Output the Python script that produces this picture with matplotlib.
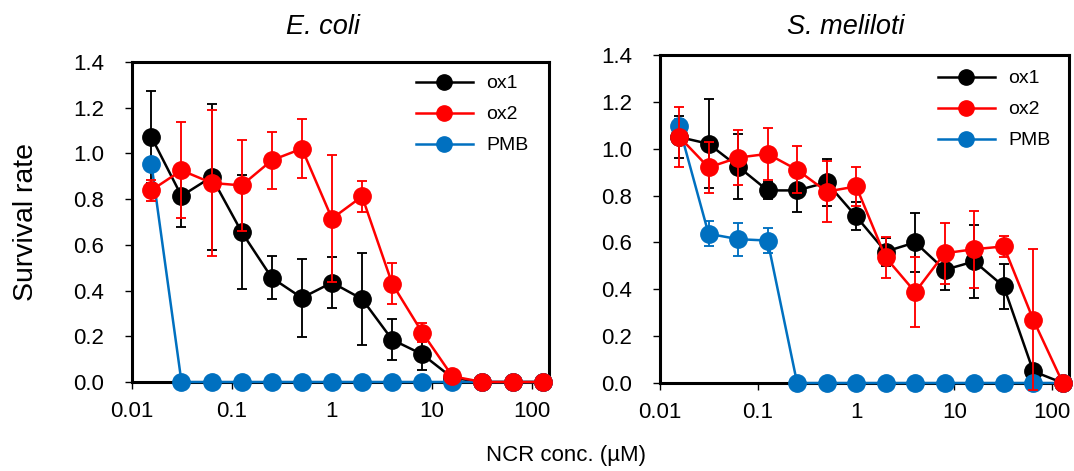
import matplotlib
matplotlib.use("Agg")
import matplotlib.pyplot as plt

plt.rcParams['font.family'] = ['Liberation Sans', 'DejaVu Sans']

conc = [0.015625, 0.03125, 0.0625, 0.125, 0.25, 0.5, 1, 2, 4, 8, 16, 32, 64, 128]

# E. coli
ecoli_ox1 = [1.072, 0.814, 0.897, 0.656, 0.456, 0.368, 0.435, 0.363, 0.185, 0.121, 0.018, 0, 0, 0]
ecoli_ox1_err = [0.20, 0.136, 0.32, 0.25, 0.095, 0.17, 0.11, 0.20, 0.09, 0.07, 0.0, 0, 0, 0]
ecoli_ox2 = [0.839, 0.926, 0.871, 0.860, 0.970, 1.021, 0.715, 0.812, 0.430, 0.216, 0.025, 0, 0, 0]
ecoli_ox2_err = [0.045, 0.21, 0.32, 0.20, 0.124, 0.128, 0.277, 0.067, 0.09, 0.042, 0.0, 0, 0, 0]
ecoli_pmb = [0.955, 0, 0, 0, 0, 0, 0, 0, 0, 0, 0, 0, 0, 0]
ecoli_pmb_err = [0, 0, 0, 0, 0, 0, 0, 0, 0, 0, 0, 0, 0, 0]

# S. meliloti
smel_ox1 = [1.05, 1.021, 0.924, 0.822, 0.822, 0.856, 0.711, 0.561, 0.600, 0.483, 0.519, 0.412, 0.050, 0]
smel_ox1_err = [0.09, 0.19, 0.14, 0.035, 0.09, 0.10, 0.06, 0.06, 0.125, 0.085, 0.155, 0.097, 0.0, 0]
smel_ox2 = [1.052, 0.920, 0.962, 0.978, 0.910, 0.817, 0.839, 0.536, 0.388, 0.554, 0.571, 0.583, 0.270, 0]
smel_ox2_err = [0.128, 0.11, 0.117, 0.11, 0.10, 0.13, 0.085, 0.087, 0.15, 0.13, 0.165, 0.045, 0.30, 0]
smel_pmb = [1.097, 0.637, 0.614, 0.608, 0, 0, 0, 0, 0, 0, 0, 0, 0, 0]
smel_pmb_err = [0.03, 0.053, 0.07, 0.055, 0, 0, 0, 0, 0, 0, 0, 0, 0, 0]

series_names = ['ox1', 'ox2', 'PMB']
colors = {'ox1': '#000000', 'ox2': '#FF0000', 'PMB': '#0070C0'}
yticks = [0.0, 0.2, 0.4, 0.6, 0.8, 1.0, 1.2, 1.4]
xticks = [0.01, 0.1, 1, 10, 100]
xticklabels = ['0.01', '0.1', '1', '10', '100']

W, H = 1074, 471
fig = plt.figure(figsize=(W / 100, H / 100), dpi=100)
ax1 = fig.add_axes([132 / W, (H - 382) / H, (549 - 132) / W, (382 - 62) / H])
ax2 = fig.add_axes([660 / W, (H - 383) / H, (1069 - 660) / W, (383 - 55) / H])

panels = [
    (ax1, {'ox1': (ecoli_ox1, ecoli_ox1_err), 'ox2': (ecoli_ox2, ecoli_ox2_err), 'PMB': (ecoli_pmb, ecoli_pmb_err)},
     ((408 - 132) / 417, (382 - 67) / 320)),
    (ax2, {'ox1': (smel_ox1, smel_ox1_err), 'ox2': (smel_ox2, smel_ox2_err), 'PMB': (smel_pmb, smel_pmb_err)},
     ((930 - 660) / 409, (383 - 62) / 328)),
]

for ax, data, leg_anchor in panels:
    handles = {}
    for z, name in zip([3, 4, 5], ['ox1', 'PMB', 'ox2']):
        y, e = data[name]
        c = colors[name]
        ax.errorbar(conc, y, yerr=e, fmt='none', ecolor=c, elinewidth=1.35, capsize=3.6, capthick=1.35,
                    zorder=z, clip_on=False)
        ln, = ax.plot(conc, y, color=c, lw=1.8, marker='o', markersize=12.5, zorder=z + 0.5, clip_on=False)
        handles[name] = ln
    ax.set_xscale('log')
    ax.set_xlim(0.01, 148)
    ax.set_ylim(0, 1.4)
    ax.set_yticks(yticks)
    ax.set_yticklabels([f'{v:.1f}' for v in yticks])
    ax.set_xticks(xticks)
    ax.set_xticklabels(xticklabels)
    ax.minorticks_off()
    ax.tick_params(axis='both', direction='out', length=5, width=1.0, labelsize=16, colors='black')
    ax.tick_params(axis='y', pad=15)
    ax.tick_params(axis='x', pad=9)
    for s in ax.spines.values():
        s.set_linewidth(2.2)
        s.set_color('black')
    ax.legend([handles[n] for n in series_names], series_names, loc='upper left', bbox_to_anchor=leg_anchor,
              borderaxespad=0, frameon=False, fontsize=14, handlelength=2.93, labelspacing=0.69,
              handletextpad=0.7, markerscale=0.88)

fig.text(323 / W, 1 - 27 / H, 'E. coli', ha='center', va='center', fontsize=19.5, style='italic')
fig.text(846 / W, 1 - 27 / H, 'S. meliloti', ha='center', va='center', fontsize=19.5, style='italic')
fig.text(26 / W, 1 - 222 / H, 'Survival rate', ha='center', va='center', rotation=90, fontsize=20.5)
fig.text(566 / W, 1 - 455 / H, 'NCR conc. (\u00b5M)', ha='center', va='center', fontsize=16)

fig.savefig('out.png', dpi=100)
